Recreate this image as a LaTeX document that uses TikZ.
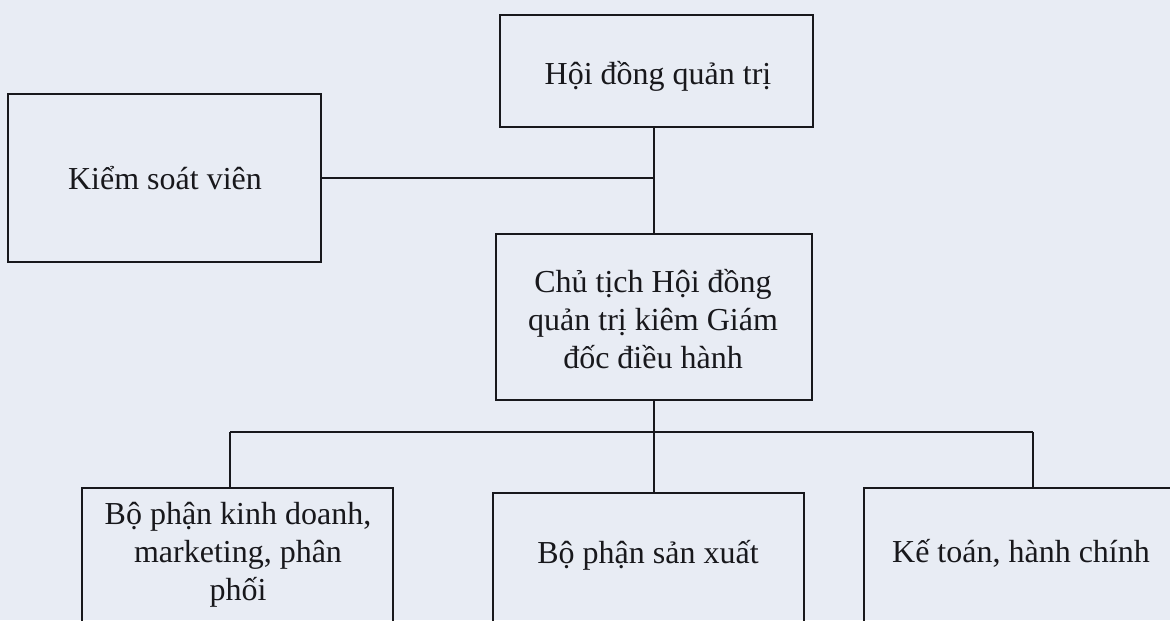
\documentclass[tikz,border=0pt]{standalone}
\usepackage{fontspec}
\setmainfont{Liberation Serif}
\definecolor{paper}{RGB}{232,236,244}
\definecolor{ink}{RGB}{24,24,28}
\begin{document}
\begin{tikzpicture}[x=0.5pt,y=-0.5pt,
  orgbox/.style={draw=ink,line width=1.25pt,rectangle,inner sep=0pt},
  lbl/.style={inner sep=0pt,align=center,text=ink,font=\fontsize{16}{19}\selectfont},
  conn/.style={draw=ink,line width=1.1pt}]
\fill[paper] (0,0) rectangle (1170,620);
\useasboundingbox (0,0) rectangle (1170,620);
\clip (0,0) rectangle (1170,620);
% boxes
\node[orgbox,minimum width=156.5pt,minimum height=56pt] (hdqt) at (656.5,71) {};
\node[orgbox,minimum width=156.5pt,minimum height=84pt] (ksv) at (164.5,178) {};
\node[orgbox,minimum width=158pt,minimum height=83pt] (ct) at (654,317) {};
\node[orgbox,minimum width=155.5pt,minimum height=76pt] (b1) at (237.5,564) {};
\node[orgbox,minimum width=155.5pt,minimum height=73.5pt] (b2) at (648.5,566.5) {};
\node[orgbox,minimum width=158pt,minimum height=76pt] (b3) at (1022,564) {};
% labels
\node[lbl,anchor=base] (thdqt) at (658,85) {Hội đồng quản trị};
\node[lbl,anchor=base] (tksv) at (165,190) {Kiểm soát viên};
\node[lbl] (tct) at (653,319) {Chủ tịch Hội đồng\\quản trị kiêm Giám\\đốc điều hành};
\node[lbl] (tb1) at (238,555) {Bộ phận kinh doanh,\\marketing, phân\\phối};
\node[lbl,anchor=base] (tb2) at (648,563) {Bộ phận sản xuất};
\node[lbl,anchor=base] (tb3) at (1021,562) {Kế toán, hành chính};
% connectors
\draw[conn] (hdqt.south -| ct.north) -- (ct.north);
\draw[conn] (ksv.east) -- (ksv.east -| ct.north);
\coordinate (bl) at (230,432);
\coordinate (br) at (1033,432);
\draw[conn] (ct.south) -- (ct.south |- b2.north);
\draw[conn] (bl) -- (br);
\draw[conn] (bl) -- (bl |- b1.north);
\draw[conn] (br) -- (br |- b3.north);
\end{tikzpicture}
\end{document}
